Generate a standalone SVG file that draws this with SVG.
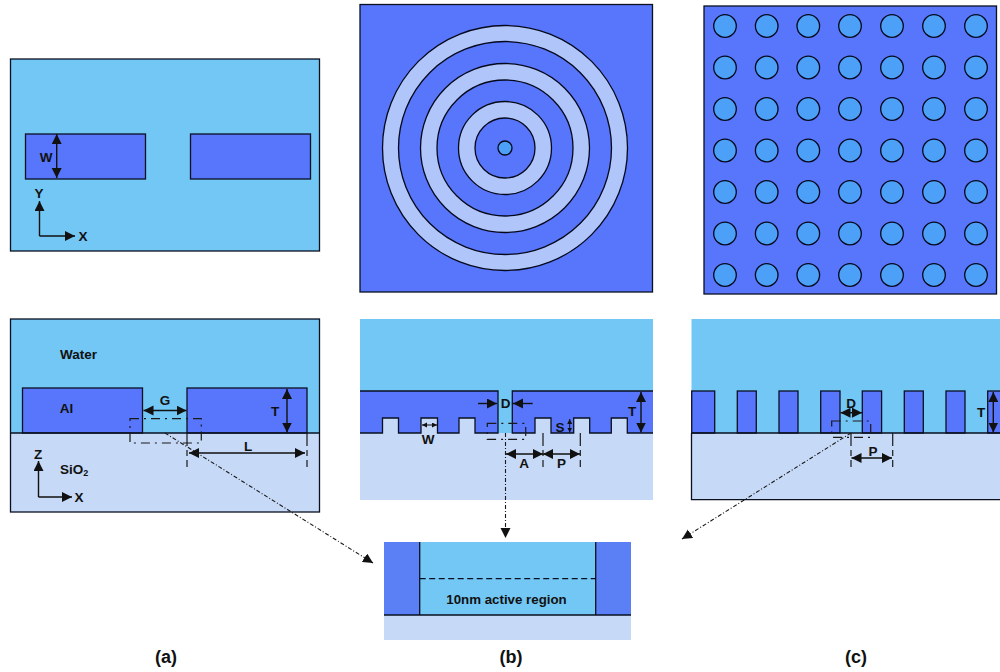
<svg xmlns="http://www.w3.org/2000/svg" width="1000" height="672" viewBox="0 0 1000 672">
<style>
.water{fill:#72c7f5}.metal{fill:#5776fb}.glass{fill:#c6d9f6}
.ol{stroke:#0a1020;stroke-width:1.3}
.edge{fill:none;stroke:#0a1020;stroke-width:1.3}
.ring{fill:#b0c6fa;stroke:#05081a;stroke-width:1.3}
.gap{fill:#5776fb;stroke:#05081a;stroke-width:1.3}
.hole{fill:#4da0f8;stroke:#05081a;stroke-width:1.3}
.dim{fill:none;stroke:#111;stroke-width:1.4;marker-start:url(#a);marker-end:url(#a)}
.dimS{fill:none;stroke:#111;stroke-width:1;marker-start:url(#s);marker-end:url(#s)}
.one{fill:none;stroke:#111;stroke-width:1.4;marker-end:url(#a)}
.tick{fill:none;stroke:#1a1a1a;stroke-width:1.2;stroke-dasharray:13 4 6 4}
.box{fill:none;stroke:#1a1a1a;stroke-width:1.2;stroke-dasharray:9 5 2 5}
.lead{fill:none;stroke:#1a1a1a;stroke-width:1.1;stroke-dasharray:4 2 1 2;marker-end:url(#a)}
text{font-family:"Liberation Sans",Arial,sans-serif;font-weight:bold;font-size:13.5px;fill:#111;text-anchor:middle}
.cap{font-size:18px}
</style>
<defs>
<marker id="a" markerUnits="userSpaceOnUse" markerWidth="11" markerHeight="11" refX="10" refY="5" orient="auto-start-reverse"><path d="M0 0L10 5L0 10Z" fill="#111"/></marker>
<marker id="s" markerUnits="userSpaceOnUse" markerWidth="6" markerHeight="6" refX="5" refY="2.5" orient="auto-start-reverse"><path d="M0 0L5 2.5L0 5Z" fill="#111"/></marker>
</defs>

<g id="a-top">
<rect class="edge" style="fill:#72c7f5" x="10.500" y="59" width="309" height="192"/>
<rect class="metal ol" x="25.500" y="134" width="120" height="45"/>
<rect class="metal ol" x="190.500" y="134" width="120" height="45"/>
<text x="46" y="162">W</text>
<text x="39" y="198">Y</text>
<text x="83" y="241">X</text>
</g>

<g id="b-top">
<rect class="metal ol" x="360" y="4.500" width="292.500" height="287.500"/>
<circle class="ring" cx="505" cy="148" r="122.500"/>
<circle class="gap" cx="505" cy="148" r="106.500"/>
<circle class="ring" cx="505" cy="148" r="84.500"/>
<circle class="gap" cx="505" cy="148" r="68"/>
<circle class="ring" cx="505" cy="148" r="46.500"/>
<circle class="gap" cx="505" cy="148" r="30"/>
<circle class="hole" cx="505" cy="148" r="7"/>
</g>

<g id="c-top">
<rect class="metal ol" x="704" y="6" width="292.500" height="288"/>
<g id="c-holes">
<circle class="hole" cx="725" cy="26" r="11.300"/><circle class="hole" cx="766.700" cy="26" r="11.300"/><circle class="hole" cx="808.300" cy="26" r="11.300"/><circle class="hole" cx="850" cy="26" r="11.300"/><circle class="hole" cx="892" cy="26" r="11.300"/><circle class="hole" cx="934" cy="26" r="11.300"/><circle class="hole" cx="976" cy="26" r="11.300"/>
<circle class="hole" cx="725" cy="67.500" r="11.300"/><circle class="hole" cx="766.700" cy="67.500" r="11.300"/><circle class="hole" cx="808.300" cy="67.500" r="11.300"/><circle class="hole" cx="850" cy="67.500" r="11.300"/><circle class="hole" cx="892" cy="67.500" r="11.300"/><circle class="hole" cx="934" cy="67.500" r="11.300"/><circle class="hole" cx="976" cy="67.500" r="11.300"/>
<circle class="hole" cx="725" cy="109" r="11.300"/><circle class="hole" cx="766.700" cy="109" r="11.300"/><circle class="hole" cx="808.300" cy="109" r="11.300"/><circle class="hole" cx="850" cy="109" r="11.300"/><circle class="hole" cx="892" cy="109" r="11.300"/><circle class="hole" cx="934" cy="109" r="11.300"/><circle class="hole" cx="976" cy="109" r="11.300"/>
<circle class="hole" cx="725" cy="150.500" r="11.300"/><circle class="hole" cx="766.700" cy="150.500" r="11.300"/><circle class="hole" cx="808.300" cy="150.500" r="11.300"/><circle class="hole" cx="850" cy="150.500" r="11.300"/><circle class="hole" cx="892" cy="150.500" r="11.300"/><circle class="hole" cx="934" cy="150.500" r="11.300"/><circle class="hole" cx="976" cy="150.500" r="11.300"/>
<circle class="hole" cx="725" cy="192" r="11.300"/><circle class="hole" cx="766.700" cy="192" r="11.300"/><circle class="hole" cx="808.300" cy="192" r="11.300"/><circle class="hole" cx="850" cy="192" r="11.300"/><circle class="hole" cx="892" cy="192" r="11.300"/><circle class="hole" cx="934" cy="192" r="11.300"/><circle class="hole" cx="976" cy="192" r="11.300"/>
<circle class="hole" cx="725" cy="233.500" r="11.300"/><circle class="hole" cx="766.700" cy="233.500" r="11.300"/><circle class="hole" cx="808.300" cy="233.500" r="11.300"/><circle class="hole" cx="850" cy="233.500" r="11.300"/><circle class="hole" cx="892" cy="233.500" r="11.300"/><circle class="hole" cx="934" cy="233.500" r="11.300"/><circle class="hole" cx="976" cy="233.500" r="11.300"/>
<circle class="hole" cx="725" cy="275" r="11.300"/><circle class="hole" cx="766.700" cy="275" r="11.300"/><circle class="hole" cx="808.300" cy="275" r="11.300"/><circle class="hole" cx="850" cy="275" r="11.300"/><circle class="hole" cx="892" cy="275" r="11.300"/><circle class="hole" cx="934" cy="275" r="11.300"/><circle class="hole" cx="976" cy="275" r="11.300"/>
</g>
</g>

<g id="a-section">
<rect class="water" x="10.500" y="319" width="309" height="114"/>
<rect class="glass" x="10.500" y="433" width="309" height="79"/>
<rect class="metal ol" x="22.500" y="388" width="120" height="45"/>
<rect class="metal ol" x="187" y="388" width="120" height="45"/>
<path class="edge" d="M10.500 433H319.500"/>
<rect class="edge" x="10.500" y="319" width="309" height="193"/>
<text x="78.500" y="359">Water</text>
<text x="66.500" y="413">Al</text>
<text x="165" y="405">G</text>
<text x="275" y="416">T</text>
<text x="248" y="451">L</text>
<text x="38" y="459">Z</text>
<text x="79" y="502">X</text>
<text x="60" y="474" style="text-anchor:start">SiO<tspan font-size="9" dy="2">2</tspan></text>
</g>

<g id="b-section">
<rect class="water" x="360" y="319" width="293" height="114"/>
<rect class="glass" x="360" y="433" width="293" height="67"/>
<path class="glass" d="M382.500 418h16v15h-16zM421 418h16.500v15h-16.500zM459 418h16v15h-16zM535 418h16v15h-16zM573.700 418h16v15h-16zM611.300 418h16v15h-16z"/>
<path class="metal ol" d="M360 391H498V433H475V418H459V433H437.500V418H421V433H398.500V418H382.500V433H360"/>
<path class="metal ol" d="M653 391H512.300V433H535V418H551V433H573.700V418H589.700V433H611.300V418H627.300V433H653"/>
<text x="505.500" y="408">D</text>
<text x="632" y="416">T</text>
<text x="560" y="432">S</text>
<text x="428" y="444">W</text>
<text x="524" y="468">A</text>
<text x="561.500" y="468">P</text>
</g>

<g id="c-section">
<rect class="water" x="691.500" y="319" width="308.500" height="114"/>
<rect class="glass" x="691.500" y="433" width="308.500" height="67"/>
<rect class="metal ol" x="691.700" y="391" width="23" height="42"/>
<rect class="metal ol" x="737.300" y="391" width="19" height="42"/>
<rect class="metal ol" x="779" y="391" width="19" height="42"/>
<rect class="metal ol" x="820.700" y="391" width="19.300" height="42"/>
<rect class="metal ol" x="862.300" y="391" width="19.300" height="42"/>
<rect class="metal ol" x="904.300" y="391" width="19" height="42"/>
<rect class="metal ol" x="946" y="391" width="19" height="42"/>
<rect class="metal ol" x="987.700" y="391" width="14" height="42"/>
<path class="edge" d="M691.500 433H1000M691.500 433V499.700H1000"/>
<text x="851" y="408">D</text>
<text x="981" y="417">T</text>
<text x="873" y="456">P</text>
</g>

<g id="inset">
<rect class="water" x="419.700" y="542" width="176" height="73"/>
<rect x="384" y="542" width="35.700" height="73" fill="#5b80f5"/>
<rect x="595.700" y="542" width="35.300" height="73" fill="#5b80f5"/>
<rect class="glass" x="384" y="615" width="247" height="25"/>
<path class="edge" d="M419.700 542V615M595.700 542V615M384 615H631"/>
<path class="edge" stroke-dasharray="6 3.500" d="M419.700 578.700H595.700"/>
<text x="506.500" y="604" style="font-size:13.300px">10nm active region</text>
</g>

<g id="captions">
<text class="cap" x="166" y="663">(a)</text>
<text class="cap" x="511" y="663">(b)</text>
<text class="cap" x="856" y="663">(c)</text>
</g>

<g id="connectors">
<path class="dim" d="M56.700 134V178"/>
<path class="one" d="M39.500 236V201"/>
<path class="one" d="M39.500 236H75"/>
<path class="one" d="M38.500 497V461"/>
<path class="one" d="M38.500 497H72"/>
<path class="dim" d="M143.500 410.500H186.500"/>
<path class="dim" d="M287 389V432.500"/>
<path class="dim" d="M189 453H305"/>
<path class="tick" d="M187 433V467M307 433V467"/>
<rect class="box" x="130" y="418.700" width="71.300" height="24.300"/>
<path class="lead" d="M165 433L373 563"/>

<path class="one" d="M478 403.500H497"/>
<path class="one" d="M532.700 403.500H513"/>
<path class="dim" d="M641 392V432.500"/>
<path class="dimS" d="M569.700 419V432.500"/>
<path class="dimS" d="M422 425H437"/>
<path class="dim" d="M506 454H543"/>
<path class="dim" d="M543 454H580"/>
<path class="tick" d="M543 433V467M580.300 433V467"/>
<rect class="box" x="487.300" y="423.300" width="38.400" height="16"/>
<path class="lead" d="M505.500 433V538"/>

<path class="dim" d="M840.500 412.700H862"/>
<path class="dim" d="M993.300 392V432.500"/>
<path class="dim" d="M851.500 458H892"/>
<path class="tick" d="M851 433V467M892.700 433V467"/>
<rect class="box" x="831.700" y="421" width="39" height="16.300"/>
<path class="lead" d="M851 433L682 539"/>
</g>
</svg>
